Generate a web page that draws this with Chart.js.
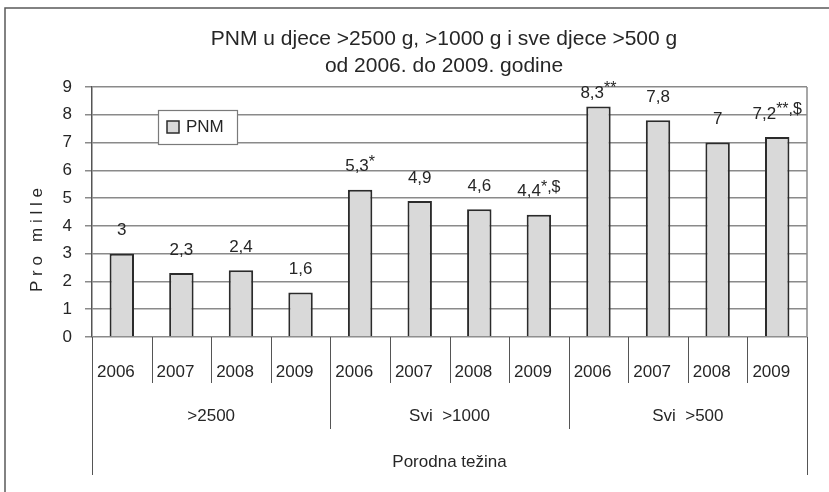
<!DOCTYPE html>
<html>
<head>
<meta charset="utf-8">
<script src="https://cdn.jsdelivr.net/npm/chart.js@4"></script>
<style>
  html, body { margin: 0; padding: 0; background: #fff; }
</style>
</head>
<body>
<canvas id="chart" width="829" height="492"></canvas>
<script>
const years = ['2006', '2007', '2008', '2009', '2006', '2007', '2008', '2009', '2006', '2007', '2008', '2009'];
const groups = ['>2500', 'Svi  >1000', 'Svi  >500'];
const values = [3, 2.3, 2.4, 1.6, 5.3, 4.9, 4.6, 4.4, 8.3, 7.8, 7, 7.2];
const marks = ['', '', '', '', '*', '', '', '*,$', '**', '', '', '**,$'];
const yTicks = [0, 1, 2, 3, 4, 5, 6, 7, 8, 9];
const titleLines = ['PNM u djece >2500 g, >1000 g i sve djece >500 g', 'od 2006. do 2009. godine'];
const xTitle = 'Porodna težina';
const yTitle = 'P r o   m i l l e';

const FONT = '"Liberation Sans", Arial, sans-serif';
const TEXT = '#262626';
Chart.defaults.font.family = FONT;
Chart.defaults.color = TEXT;

// titles, everything under the x axis, legend and the outer frame
const extras = {
  id: 'extras',
  beforeDraw(chart) {
    const ctx = chart.ctx;
    ctx.save();
    ctx.fillStyle = '#fff';
    ctx.fillRect(0, 0, chart.width, chart.height);
    ctx.strokeStyle = '#5a5a5a';
    ctx.lineWidth = 1.5;
    ctx.strokeRect(5, 8, chart.width + 10, chart.height + 10);

    ctx.fillStyle = TEXT;
    ctx.textAlign = 'center';
    ctx.textBaseline = 'alphabetic';
    ctx.font = '21px ' + FONT;
    titleLines.forEach((t, i) => ctx.fillText(t, 444, 45 + i * 27));

    ctx.translate(42, 240);
    ctx.rotate(-Math.PI / 2);
    ctx.font = '17px ' + FONT;
    ctx.fillText(yTitle, 0, 0);
    ctx.restore();
  },
  afterDatasetsDraw(chart) {
    const ctx = chart.ctx;
    const area = chart.chartArea;
    const meta = chart.getDatasetMeta(0);
    ctx.save();
    ctx.fillStyle = TEXT;
    ctx.textBaseline = 'middle';
    meta.data.forEach((bar, i) => {
      const base = String(values[i]).replace('.', ',');
      const sup = marks[i];
      ctx.font = '17px ' + FONT;
      const w1 = ctx.measureText(base).width;
      ctx.font = '16px ' + FONT;
      const w2 = sup ? ctx.measureText(sup).width : 0;
      const x0 = bar.x - (w1 + w2) / 2;
      const y = Math.max(bar.y - 23, area.top + 6);
      ctx.textAlign = 'left';
      ctx.font = '17px ' + FONT;
      ctx.fillText(base, x0, y);
      if (sup) {
        ctx.font = '16px ' + FONT;
        ctx.fillText(sup, x0 + w1, y - 4);
      }
    });
    ctx.restore();
  },
  afterDraw(chart) {
    const ctx = chart.ctx;
    const area = chart.chartArea;
    const xs = chart.scales.x;
    const n = years.length;
    const cw = (area.right - area.left) / n;
    const bottom = area.bottom;
    ctx.save();

    // right border of plot
    ctx.strokeStyle = '#8a8a8a';
    ctx.lineWidth = 1.5;
    ctx.beginPath();
    ctx.moveTo(area.right, area.top);
    ctx.lineTo(area.right, bottom);
    ctx.stroke();

    // category separators
    ctx.strokeStyle = '#555';
    ctx.lineWidth = 1;
    for (let i = 0; i <= n; i++) {
      const bx = Math.round(xs.getPixelForValue(0) - cw / 2 + i * cw) + 0.5;
      let len = 46;
      if (i % 4 === 0) len = 92;
      if (i === 0 || i === n) len = 138;
      ctx.beginPath();
      ctx.moveTo(bx, bottom);
      ctx.lineTo(bx, bottom + len);
      ctx.stroke();
    }

    ctx.fillStyle = TEXT;
    ctx.font = '17px ' + FONT;
    ctx.textBaseline = 'alphabetic';
    ctx.textAlign = 'left';
    years.forEach((yr, i) => {
      const bx = xs.getPixelForValue(i) - cw / 2;
      ctx.fillText(yr, bx + 5, bottom + 40);
    });
    ctx.textAlign = 'center';
    groups.forEach((g, k) => {
      const cx = (xs.getPixelForValue(k * 4) + xs.getPixelForValue(k * 4 + 3)) / 2;
      ctx.fillText(g, cx, bottom + 84);
    });
    ctx.fillText(xTitle, (area.left + area.right) / 2, bottom + 130);

    // legend
    const ds = chart.data.datasets[0];
    const lx = 158, ly = 110;
    ctx.fillStyle = '#fff';
    ctx.fillRect(lx, ly, 79, 34);
    ctx.strokeStyle = '#7a7a7a';
    ctx.lineWidth = 1.2;
    ctx.strokeRect(lx + 0.5, ly + 0.5, 79, 34);
    ctx.fillStyle = ds.backgroundColor;
    ctx.fillRect(lx + 9, ly + 11, 12, 12);
    ctx.strokeStyle = ds.borderColor;
    ctx.lineWidth = 1.5;
    ctx.strokeRect(lx + 9, ly + 11, 12, 12);
    ctx.fillStyle = TEXT;
    ctx.textAlign = 'left';
    ctx.textBaseline = 'middle';
    ctx.font = '17px ' + FONT;
    ctx.fillText(ds.label, lx + 28, ly + 17);
    ctx.restore();
  }
};

new Chart(document.getElementById('chart'), {
  type: 'bar',
  data: {
    labels: years,
    datasets: [{
      label: 'PNM',
      data: values,
      backgroundColor: '#d9d9d9',
      borderColor: '#2b2b2b',
      borderWidth: 2,
      barPercentage: 0.41,
      categoryPercentage: 1
    }]
  },
  options: {
    responsive: false,
    animation: false,
    layout: { padding: { top: 87, right: 22, bottom: 155, left: 0 } },
    plugins: {
      legend: { display: false },
      tooltip: { enabled: false },
      title: { display: false }
    },
    scales: {
      x: { display: false },
      y: {
        min: 0,
        max: 9,
        afterFit: (scale) => { scale.width = 92; },
        afterBuildTicks: (scale) => { scale.ticks = yTicks.map(v => ({ value: v })); },
        ticks: { color: TEXT, font: { size: 17 }, padding: 13 },
        grid: { color: '#8a8a8a', lineWidth: 1.5, tickLength: 7 },
        border: { color: '#555', width: 1.5 }
      }
    }
  },
  plugins: [extras]
});
</script>
</body>
</html>
